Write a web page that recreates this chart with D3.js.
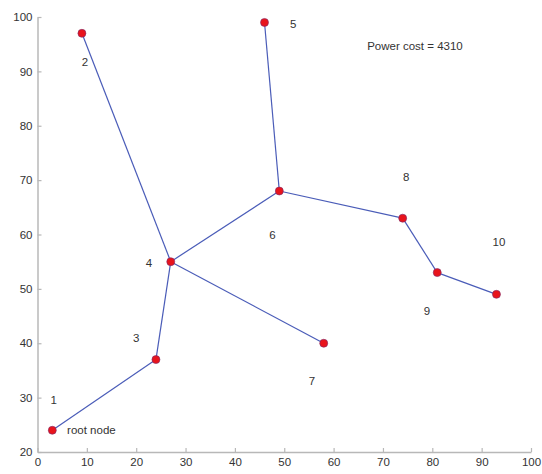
<!DOCTYPE html>
<html>
<head>
<meta charset="utf-8">
<script src="https://cdn.jsdelivr.net/npm/d3@7"></script>
<style>
  html, body { margin: 0; padding: 0; background: #fff; }
  svg { display: block; font-family: "Liberation Sans", Arial, sans-serif; }
</style>
</head>
<body>
<svg id="chart" width="542" height="474"></svg>
<script>
// Node positions of the power network
const nodeX = [3, 9, 24, 27, 46, 49, 58, 74, 81, 93];
const nodeY = [24, 97, 37, 55, 99, 68, 40, 63, 53, 49];
const nodeNames = ["1", "2", "3", "4", "5", "6", "7", "8", "9", "10"];
// Where each node's number is written
const labelX = [3.3, 9.6, 20.0, 22.6, 51.8, 47.6, 55.6, 74.7, 78.9, 93.5];
const labelY = [29.6, 91.8, 41.0, 54.8, 98.7, 60.0, 33.0, 70.5, 45.9, 58.6];
// Tree edges (1-based node numbers)
const edgeFrom = [1, 3, 4, 4, 4, 6, 6, 8, 9];
const edgeTo   = [3, 4, 2, 6, 7, 5, 8, 9, 10];
const xTicks = [0, 10, 20, 30, 40, 50, 60, 70, 80, 90, 100];
const yTicks = [20, 30, 40, 50, 60, 70, 80, 90, 100];
const powerCost = 4310;

const svg = d3.select("#chart");
const x = d3.scaleLinear().domain([0, 100]).range([37.5, 531]);
const y = d3.scaleLinear().domain([20, 100]).range([452, 17]);

const axisColor = "#b8b8b8";
const textColor = "#333";

// Axes: ticks point inward, no box
const xAxis = svg.append("g").attr("transform", `translate(0,${y(20)})`)
  .call(d3.axisBottom(x).tickValues(xTicks).tickSizeInner(-4).tickSizeOuter(0).tickPadding(6));
const yAxis = svg.append("g").attr("transform", `translate(${x(0)},0)`)
  .call(d3.axisLeft(y).tickValues(yTicks).tickSizeInner(-4).tickSizeOuter(0).tickPadding(5));
[xAxis, yAxis].forEach(g => {
  g.select(".domain").attr("stroke", axisColor).attr("stroke-width", 1.5);
  g.selectAll(".tick line").attr("stroke", axisColor).attr("stroke-width", 1.2);
  g.selectAll(".tick text").attr("fill", textColor).attr("font-size", 11.5)
    .attr("font-family", "Liberation Sans, Arial, sans-serif");
});

// Edges
svg.append("g").selectAll("line")
  .data(edgeFrom.map((f, i) => [f - 1, edgeTo[i] - 1]))
  .join("line")
  .attr("x1", d => x(nodeX[d[0]])).attr("y1", d => y(nodeY[d[0]]))
  .attr("x2", d => x(nodeX[d[1]])).attr("y2", d => y(nodeY[d[1]]))
  .attr("stroke", "#4a5cb8").attr("stroke-width", 1.2);

// Nodes
svg.append("g").selectAll("circle")
  .data(nodeX.map((v, i) => i))
  .join("circle")
  .attr("cx", i => x(nodeX[i])).attr("cy", i => y(nodeY[i]))
  .attr("r", 4)
  .attr("fill", "#e8141c").attr("stroke", "#7a2a6a").attr("stroke-width", 0.6);

// Node numbers
svg.append("g").selectAll("text")
  .data(nodeNames)
  .join("text")
  .attr("x", (d, i) => x(labelX[i])).attr("y", (d, i) => y(labelY[i]))
  .attr("text-anchor", "middle").attr("dominant-baseline", "central")
  .attr("font-size", 11.5).attr("fill", textColor)
  .text(d => d);

svg.append("text")
  .attr("x", x(6)).attr("y", y(nodeY[0]))
  .attr("dominant-baseline", "central")
  .attr("font-size", 11.5).attr("fill", textColor)
  .text("root node");

svg.append("text")
  .attr("x", x(66.8)).attr("y", y(94.7))
  .attr("dominant-baseline", "central")
  .attr("font-size", 11.5).attr("fill", textColor)
  .text("Power cost = " + powerCost);
</script>
</body>
</html>
